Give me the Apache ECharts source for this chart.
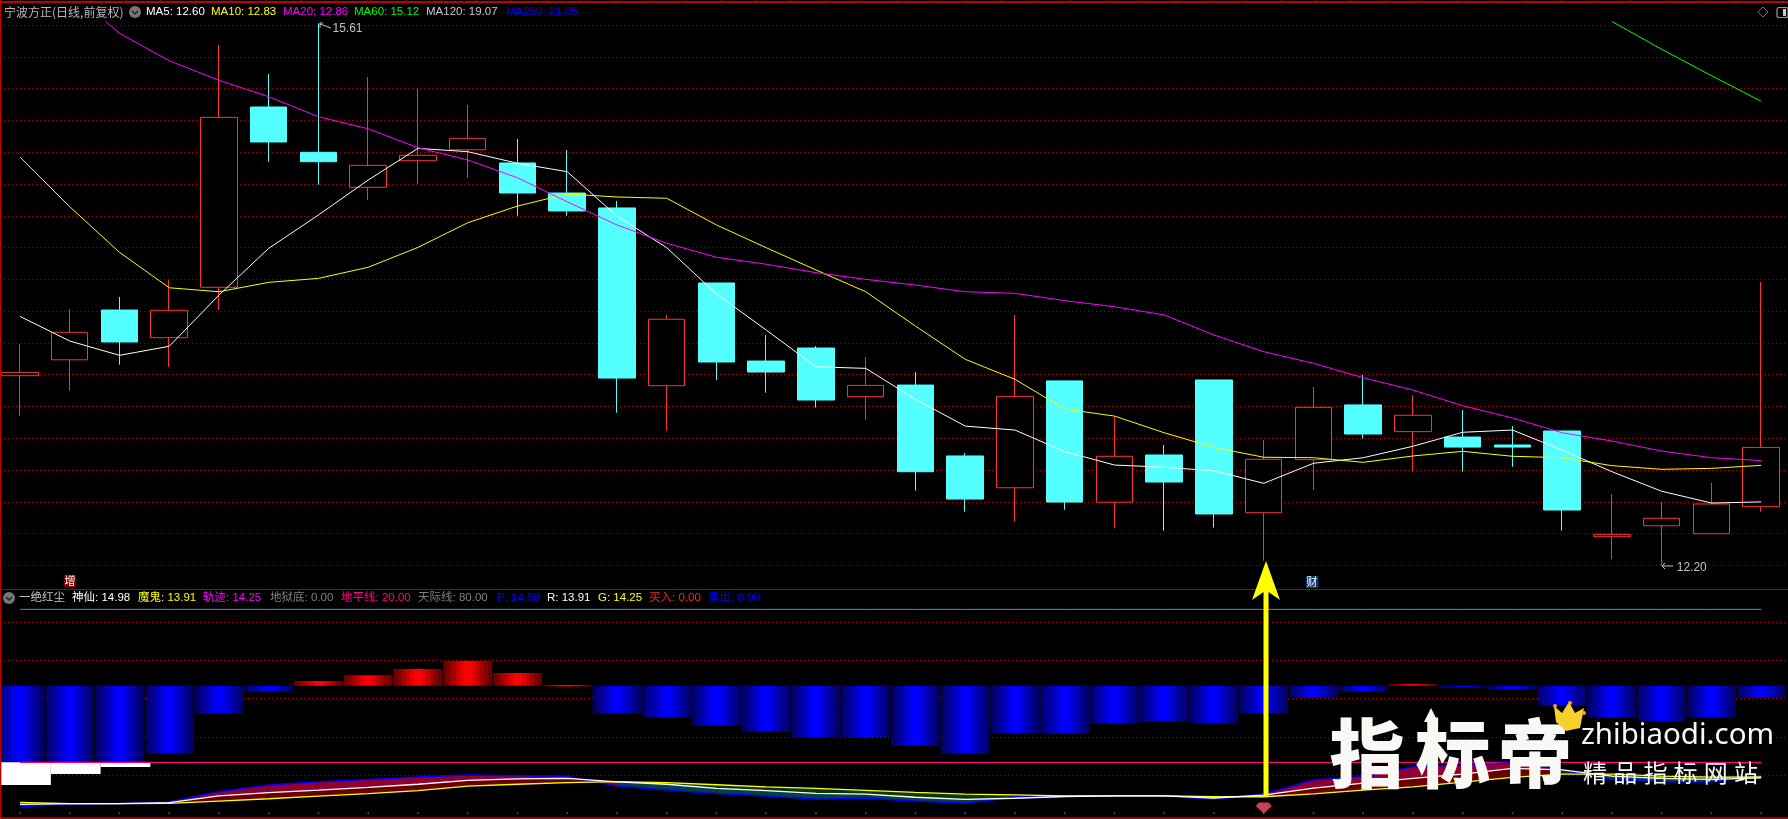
<!DOCTYPE html>
<html><head><meta charset="utf-8">
<style>html,body{margin:0;padding:0;background:#000;overflow:hidden}#c{width:1788px;height:819px}</style>
<script src="https://cdn.jsdelivr.net/npm/echarts@6/dist/echarts.min.js"></script>
</head><body><div id="c"></div>
<script>
// ---------- data (candles as [open, close, low, high]) ----------
const candles = [
[13.394,13.415,13.142,13.593],[13.494,13.667,13.300,13.813],[13.807,13.606,13.463,13.889],[13.633,13.805,13.450,13.996],
[13.950,15.019,13.807,15.474],[15.084,14.864,14.740,15.292],[14.799,14.740,14.595,15.610],[14.579,14.717,14.499,15.273],
[14.746,14.780,14.600,15.199],[14.815,14.887,14.639,15.097],[14.732,14.543,14.400,14.883],[14.543,14.430,14.400,14.813],
[14.449,13.379,13.161,14.493],[13.331,13.749,13.048,13.776],[13.977,13.480,13.367,13.977],[13.486,13.417,13.287,13.650],
[13.568,13.241,13.193,13.581],[13.262,13.333,13.117,13.511],[13.335,12.790,12.671,13.417],[12.889,12.618,12.538,12.908],
[12.689,13.264,12.476,13.776],[13.361,12.599,12.551,13.361],[12.598,12.887,12.438,13.136],[12.895,12.725,12.419,12.958],
[13.367,12.524,12.438,13.367],[12.532,12.868,12.230,12.989],[12.866,13.195,12.675,13.323],[13.210,13.027,12.998,13.398],
[13.042,13.145,12.790,13.272],[13.008,12.945,12.790,13.178],[12.958,12.945,12.821,13.077],[13.046,12.549,12.419,13.046],
[12.381,12.396,12.239,12.650],[12.450,12.497,12.200,12.599],[12.400,12.587,12.400,12.719],[12.570,12.943,12.538,13.983]];
const ma5 = [13.767,13.612,13.522,13.579,13.901,14.195,14.405,14.625,14.824,14.803,14.730,14.677,14.398,14.199,13.908,13.681,13.450,13.440,13.245,13.077,13.052,12.916,12.832,12.818,12.796,12.717,12.843,12.878,12.950,13.038,13.052,12.926,12.790,12.667,12.593,12.600];
const ma10 = [14.769,14.457,14.170,13.947,13.922,13.981,14.006,14.076,14.201,14.356,14.461,14.537,14.518,14.510,14.342,14.199,14.059,13.922,13.706,13.497,13.371,13.184,13.140,13.035,12.943,12.881,12.878,12.849,12.889,12.918,12.887,12.878,12.828,12.805,12.811,12.830];
const ma20 = [null,15.814,15.548,15.375,15.252,15.149,15.023,14.947,14.828,14.751,14.639,14.488,14.342,14.227,14.139,14.095,14.042,14.000,13.964,13.922,13.912,13.866,13.828,13.776,13.650,13.545,13.472,13.381,13.304,13.205,13.128,13.035,12.983,12.920,12.878,12.860];
const ma60 = [null,null,null,null,null,null,null,null,null,null,null,null,null,null,null,null,null,null,null,null,null,null,null,null,null,null,null,null,null,null,null,null,15.622,15.447,15.281,15.120];
const priceTicks = [12.2,12.4,12.6,12.8,13.0,13.2,13.4,13.6,13.8,14.0,14.2,14.4,14.6,14.8,15.0,15.2,15.4,15.6];
const histo = [20,20,20,23.6,39.1,47.7,51.9,54.2,56.6,59.7,55,50.3,39.3,37.8,34.6,32.3,29.7,29.9,26.5,23.4,31.5,31.5,35.1,36.2,35.4,39.3,45.6,47.7,50.7,49.3,48.5,42.5,37.5,36.2,37.8,45.6];
const whiteSteps = [11.1,15.4,18.2];
const lineP = [2.7,3.5,3.8,4.5,8.5,11.1,12.4,13.3,14.2,15.0,14.7,14.5,10.7,9.1,7.8,6.8,5.5,5.9,4.8,3.9,6.5,6.8,6.8,6.8,5.5,7.6,13.1,14.4,18.3,18.9,19.8,17.0,13.3,12.4,12.3,14.98];
const lineR = [3.5,3.8,3.8,4.2,6.8,8.1,9.1,10.2,11.4,12.9,13.5,13.7,12.3,11.4,9.8,8.9,7.8,7.5,6.3,5.5,5.9,6.6,6.8,6.8,6.0,7.1,9.9,11.8,13.7,15.4,17.6,17.0,14.6,13.7,13.3,13.91];
const lineG = [4.3,3.8,3.8,3.9,4.8,5.7,6.7,7.7,8.9,10.7,11.4,12.0,12.4,12.0,11.2,10.4,9.8,9.0,8.2,7.5,7.2,6.8,6.8,6.8,6.5,6.5,7.6,9.1,10.4,12.2,14.1,15.4,15.4,14.6,14.2,14.25];
const subTicks = [15,30,45,60,75];
const hellLevel = 0, horizonLevel = 20, skyLevel = 80;
const buySignal = [[25,2.1]];
const mainHeader = [['MA5: 12.60','#ffffff',146],['MA10: 12.83','#ffff00',211],['MA20: 12.86','#ff00ff',283],['MA60: 15.12','#00ff00',354],['MA120: 19.07','#c8c8c8',426],['MA250: 21.05','#0000ff',506]];
const subHeader = [['一绝红尘','#c8c8c8',19],['神仙: 14.98','#ffffff',72],['魔鬼: 13.91','#ffff00',138],['轨迹: 14.25','#ff00ff',203],['地狱底: 0.00','#808080',270],['地平线: 20.00','#ff0080',341],['天际线: 80.00','#808080',418],['P: 14.98','#0000ff',497],['R: 13.91','#ffffff',547],['G: 14.25','#ffff00',598],['买入: 0.00','#ff2020',649],['卖出: 0.00','#0000ff',708]];

// ---------- styling ----------
const FONT = '"Liberation Sans","Noto Sans CJK SC",sans-serif';
const CJK = '"Noto Sans CJK SC",sans-serif';
const pairs = a => a.map((v,i)=>[i,v]);
const bands = c => { const s=[]; c.forEach((col,i)=>{ s.push({offset:i/c.length,color:col}); s.push({offset:(i+1)/c.length,color:col}); }); return s; };
const blueFill = new echarts.graphic.LinearGradient(0,0,1,0,bands(['#000068','#000088','#0000a4','#0000c4','#0000e4','#0000ff','#0000ff','#0000e4','#0000c4','#0000a4','#000088','#000068']));
const redFill = new echarts.graphic.LinearGradient(0,0,1,0,bands(['#6a0000','#860000','#a40000','#c40000','#e40000','#ff0000','#ff0000','#e40000','#c40000','#a40000','#860000','#6a0000']));
const T = (x,y,text,fill,size,extra) => ({type:'text',z:50,silent:true,style:Object.assign({x,y,text,fill,font:`${size||12}px ${FONT}`,verticalAlign:'middle'},extra||{})});
const L = (x1,y1,x2,y2,stroke,w) => ({type:'line',z:40,silent:true,shape:{x1,y1,x2,y2},style:{stroke,lineWidth:w||1}});
const R = (x,y,width,height,fill,z) => ({type:'rect',z:z||40,silent:true,shape:{x,y,width,height},style:{fill}});

const g = [];
g.push(L(0,2,1788,2,'#c00000',2), L(0.5,0,0.5,819,'#c00000',1.5), L(0,589.5,1788,589.5,'#b00000',1), L(0,818,1788,818,'#d00000',1.5));
for (let x=21; x<1788; x+=35) g.push(L(x,0,x,2,'#c00000',1));
g.push(T(4,12,'宁波方正(日线,前复权)','#b8b8b8',12,{font:`12px ${CJK}`}));
g.push({type:'circle',z:45,silent:true,shape:{cx:135,cy:12,r:6},style:{fill:'#777'}}, {type:'polyline',z:46,silent:true,shape:{points:[[132,11],[135,14],[138,11]]},style:{stroke:'#222',lineWidth:1.5,fill:null}});
mainHeader.forEach(h=>g.push(T(h[2],12,h[0],h[1],11.5)));
g.push({type:'circle',z:45,silent:true,shape:{cx:9,cy:598,r:6},style:{fill:'#777'}}, {type:'polyline',z:46,silent:true,shape:{points:[[6,597],[9,600],[12,597]]},style:{stroke:'#222',lineWidth:1.5,fill:null}});
subHeader.forEach(h=>g.push(T(h[2],598,h[0],h[1],11.5)));
g.push({type:'polygon',z:45,silent:true,shape:{points:[[1763,7],[1768,12],[1763,17],[1758,12]]},style:{stroke:'#777',fill:null,lineWidth:1}});
g.push({type:'rect',z:45,silent:true,shape:{x:1777,y:7.5,width:11,height:10,r:2},style:{stroke:'#999',fill:null,lineWidth:1.2}}, R(1783,9,3,7,'#ccc',45));
g.push(L(320,24,331,28,'#c0c0c0'), L(320,23,320,28,'#c0c0c0'), L(320,23,323,23,'#c0c0c0'));
g.push(L(1662,566,1673,566,'#c0c0c0'), L(1662,566,1665,563,'#c0c0c0'), L(1662,566,1665,569,'#c0c0c0'));
g.push(R(64,575,12,12,'#800000'), T(70,581,'增','#ffffff',11,{align:'center',font:`11px ${CJK}`}));
g.push(R(1306,576,12.5,12,'#103868'), T(1312,582,'财','#ffffff',11,{align:'center',font:`11px ${CJK}`}));
g.push({type:'polygon',z:60,silent:true,shape:{points:[[1266,561],[1280,600],[1268.5,592],[1268.5,797],[1263.5,797],[1263.5,592],[1252,600]]},style:{fill:'#ffff00'}});
const wmShadow = {shadowBlur:6,shadowColor:'rgba(160,160,160,0.7)'};
[['指',1367],['标',1453],['帝',1535]].forEach(c=>g.push(T(c[1],753,c[0],'#f8f8f4',75,Object.assign({align:'center',font:`900 75px ${CJK}`},wmShadow))));
g.push({type:'polygon',z:50,silent:true,shape:{points:[[1431,708],[1424,722],[1438,722]]},style:{fill:'#f8f8f4'}});
g.push(T(1581,736,'zhibiaodi.com','#f8f8f4',29.5,Object.assign({font:'29.5px "Noto Sans",sans-serif'},wmShadow)));
['精','品','指','标','网','站'].forEach((c,i)=>g.push(T(1595+i*30.2,773,c,'#f8f8f4',24,Object.assign({align:'center',font:`24px ${CJK}`},wmShadow))));
g.push({type:'polygon',z:51,silent:true,shape:{points:[[1556,722],[1554,706],[1562,713],[1569,702],[1575,713],[1584,708],[1580,728],[1566,731]]},style:{fill:'#f5d02c'}});
[[1555,706],[1570,703],[1584,713]].forEach(p=>g.push({type:'circle',z:51,silent:true,shape:{cx:p[0],cy:p[1],r:2},style:{fill:'#e8a820'}}));

const gapFill = (i)=>lineP[i]+lineP[i+1] >= lineG[i]+lineG[i+1];
const xExtent = {min:-0.402,max:35.538};
const option = {
  backgroundColor:'#000', animation:false,
  grid:[
    {left:0,right:0,top:21.8,height:575.5,show:false},
    {left:0,right:0,top:590,height:223.3,show:false}
  ],
  xAxis:[
    Object.assign({type:'value',gridIndex:0,show:false},xExtent),
    Object.assign({type:'value',gridIndex:1,show:false},xExtent)
  ],
  yAxis:[
    {type:'value',gridIndex:0,min:12,max:15.62,interval:0.2,scale:true,axisLine:{show:false},axisLabel:{show:false},axisTick:{show:false,customValues:priceTicks},
     splitLine:{show:true,customValues:priceTicks,lineStyle:{color:'#a80000',type:[1,3],width:1}}},
    {type:'value',gridIndex:1,min:0,max:87.6,interval:15,axisLine:{show:false},axisLabel:{show:false},axisTick:{show:false,customValues:subTicks},
     splitLine:{show:true,customValues:subTicks,lineStyle:{color:'#a80000',type:[1,3],width:1}}}
  ],
  graphic:{elements:g},
  series:[
    {name:'K',type:'candlestick',data:candles.map((c,i)=>[i].concat(c)),encode:{x:0,y:[1,2,3,4]},barWidth:37,z:3,clip:false,
     itemStyle:{color:'#000000',borderColor:'#ff3232',color0:'#54ffff',borderColor0:'#54ffff',borderWidth:1},
     markPoint:{symbol:'circle',symbolSize:0,silent:true,data:[
       {coord:[6,15.61],value:'15.61',label:{show:true,position:'right',formatter:'15.61',offset:[9,5],color:'#c0c0c0',fontSize:12,fontFamily:FONT}},
       {coord:[33,12.20],value:'12.20',label:{show:true,position:'right',formatter:'12.20',offset:[10,2],color:'#c0c0c0',fontSize:12,fontFamily:FONT}}
     ]}},
    {name:'MA5',type:'line',data:pairs(ma5),symbol:'none',z:5,lineStyle:{color:'#ffffff',width:1}},
    {name:'MA10',type:'line',data:pairs(ma10),symbol:'none',z:5,lineStyle:{color:'#ffff00',width:1}},
    {name:'MA20',type:'line',data:pairs(ma20),symbol:'none',z:5,lineStyle:{color:'#ff00ff',width:1}},
    {name:'MA60',type:'line',data:pairs(ma60),symbol:'none',z:5,lineStyle:{color:'#00ff00',width:1}},
    {name:'神仙',type:'custom',xAxisIndex:1,yAxisIndex:1,z:2,data:pairs(histo),encode:{x:0,y:1},clip:false,
     renderItem:(p,api)=>{const i=api.value(0),v=api.value(1),a=api.coord([i,50]),b=api.coord([i,v]),w=api.size([1,0])[0]-1;
       return {type:'rect',shape:{x:a[0]-w/2,y:Math.min(a[1],b[1]),width:w,height:Math.max(1.5,Math.abs(a[1]-b[1]))},style:{fill:v>=50?redFill:blueFill}};}},
    {name:'白块',type:'custom',xAxisIndex:1,yAxisIndex:1,z:3,data:pairs(whiteSteps),encode:{x:0,y:1},clip:false,
     renderItem:(p,api)=>{const i=api.value(0),a=api.coord([i,20]),b=api.coord([i,api.value(1)]),w=api.size([1,0])[0];
       return {type:'rect',shape:{x:a[0]-w/2+6,y:a[1],width:w,height:b[1]-a[1]},style:{fill:'#ffffff'}};}},
    {name:'区间',type:'custom',xAxisIndex:1,yAxisIndex:1,z:4,data:pairs(lineP.slice(0,-1)),encode:{x:0,y:1},clip:false,
     renderItem:(p,api)=>{const i=api.value(0);const up=gapFill(i);
       const band=(A,B,fill)=>({type:'polygon',shape:{points:[api.coord([i,A[i]]),api.coord([i+1,A[i+1]]),api.coord([i+1,B[i+1]]),api.coord([i,B[i]])]},style:{fill}});
       return {type:'group',children:[band(lineP,lineR,up?'#900030':'#064040'),band(lineR,lineG,up?'#6a0000':'#083808')]};}},
    {name:'天际线',type:'line',xAxisIndex:1,yAxisIndex:1,data:pairs(lineP.map(()=>skyLevel)),symbol:'none',z:5,lineStyle:{color:'#808080',width:1}},
    {name:'地平线',type:'line',xAxisIndex:1,yAxisIndex:1,data:pairs(lineP.map(()=>horizonLevel)),symbol:'none',z:5,lineStyle:{color:'#ff0080',width:1.2}},
    {name:'地狱底',type:'scatter',xAxisIndex:1,yAxisIndex:1,data:pairs(lineP.map(()=>hellLevel)),symbol:'rect',symbolSize:1.5,z:5,itemStyle:{color:'#808080'},clip:false},
    {name:'P',type:'line',xAxisIndex:1,yAxisIndex:1,data:pairs(lineP),symbol:'none',z:6,lineStyle:{color:'#0000ff',width:1.5}},
    {name:'G',type:'line',xAxisIndex:1,yAxisIndex:1,data:pairs(lineG),symbol:'none',z:7,lineStyle:{color:'#ffff00',width:1.3}},
    {name:'R',type:'line',xAxisIndex:1,yAxisIndex:1,data:pairs(lineR),symbol:'none',z:8,lineStyle:{color:'#ffffff',width:1.3}},
    {name:'买入',type:'scatter',xAxisIndex:1,yAxisIndex:1,data:buySignal,z:9,symbol:'path://M3,0 L13,0 L16,4 L8,12 L0,4 Z',symbolSize:[16,11],itemStyle:{color:'#ff5068'}}
  ]
};
const chart = echarts.init(document.getElementById('c'),null,{renderer:'canvas',width:1788,height:819});
chart.setOption(option);
</script></body></html>
